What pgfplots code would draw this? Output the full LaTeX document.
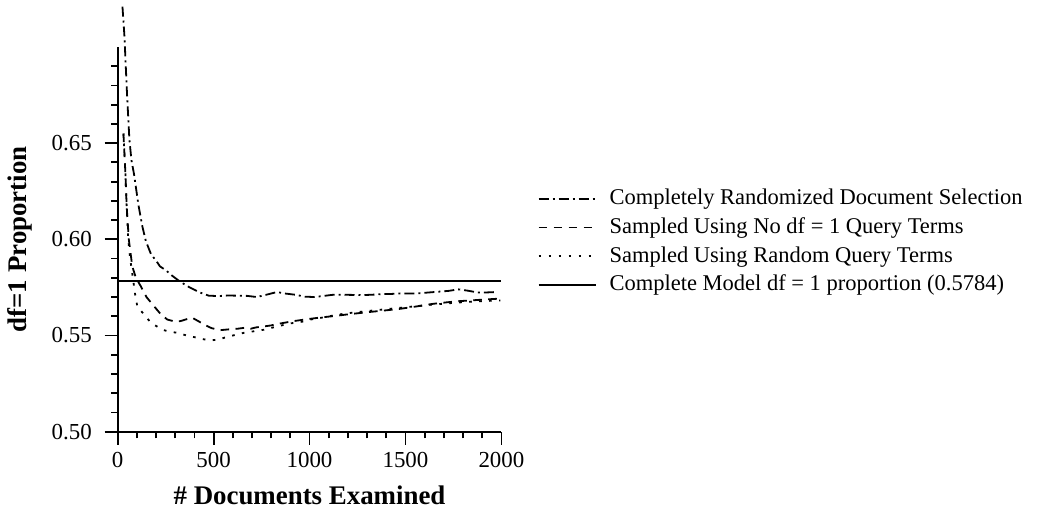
\documentclass[border=0pt]{standalone}
\usepackage{pgfplots}
\pgfplotsset{compat=1.18}
\usepackage{fontspec}
\setmainfont{Liberation Serif}
\begin{document}
\fontsize{11.3}{13.5}\selectfont
\begin{tikzpicture}
\path (-58.5bp,-38bp) rectangle (470bp,216bp);
\begin{axis}[
  at={(0,0)}, anchor=south west,
  scale only axis,
  width=192bp, height=192.5bp,
  xmin=0, xmax=2000, ymin=0.5, ymax=0.70,
  clip=false,
  axis lines*=left,
  axis line style={line width=0.9bp},
  tick align=outside,
  major tick length=6.5bp, minor tick length=3.3bp,
  tick style={line width=0.9bp, black},
  xtick={0,500,1000,1500,2000},
  minor xtick={100,200,300,400,600,700,800,900,1100,1200,1300,1400,1600,1700,1800,1900},
  ytick={0.5,0.55,0.6,0.65},
  minor ytick={0.51,0.52,0.53,0.54,0.56,0.57,0.58,0.59,0.61,0.62,0.63,0.64,0.66,0.67,0.68,0.69},
  yticklabel style={xshift=-2.5bp, /pgf/number format/.cd, fixed, fixed zerofill, precision=2},
  xticklabel style={/pgf/number format/.cd, fixed, 1000 sep={}},
  /pgf/number format/assume math mode=true,
  ticklabel style={font=\fontsize{11.5}{13.5}\selectfont},
  xlabel={\textbf{\# Documents Examined}},
  ylabel={\textbf{df=1 Proportion}},
  xlabel style={at={(axis description cs:0.5,-0.19)}, anchor=base},
  ylabel style={at={(axis description cs:-0.255,0.5)}, anchor=center},
  label style={font=\fontsize{13.5}{15}\selectfont},
  legend style={at={(1,0.5)}, anchor=west, xshift=18bp, yshift=-1.5bp, draw=none, fill=none,
    inner sep=0pt, column sep=6.5bp, row sep=3.8bp,
    nodes={inner sep=0pt, text height=8bp, text depth=2.5bp, anchor=base west},
    font=\fontsize{11.3}{13.5}\selectfont},
  legend cell align=left,
  legend image code/.code={\draw[#1] (0bp,3bp) -- (28.5bp,3bp);},
]
\addplot[black, line width=0.9bp, dash pattern=on 5bp off 2bp on 1bp off 2bp] coordinates {
(25,0.721) (35,0.706) (49,0.675) (61,0.652) (72,0.641) (85,0.634) (108,0.618) (128,0.607) (147,0.599)
(175,0.592) (200,0.589) (220,0.586) (250,0.584) (285,0.581) (325,0.578) (375,0.575) (425,0.5725)
(475,0.5707) (525,0.5705) (575,0.5708) (625,0.5707) (675,0.5706) (725,0.5700) (775,0.5712)
(830,0.5726) (875,0.5718) (925,0.5712) (975,0.5702) (1025,0.5700) (1075,0.5706) (1125,0.5712)
(1175,0.5712) (1225,0.5711) (1275,0.5710) (1325,0.5712) (1375,0.5715) (1425,0.5716) (1475,0.5719)
(1525,0.5718) (1575,0.5720) (1625,0.5724) (1675,0.5728) (1725,0.5732) (1775,0.5740) (1825,0.5733)
(1875,0.5724) (1925,0.5724) (1975,0.5726)
};
\addlegendentry{Completely Randomized Document Selection}
\addplot[black, line width=0.9bp, dash pattern=on 4.3bp off 3.2bp] coordinates {
(30,0.655) (40,0.635) (47,0.617) (58,0.600) (76,0.586) (95,0.580) (120,0.5757) (150,0.570)
(189,0.5653) (225,0.561) (259,0.5583) (300,0.5572) (328,0.5575) (360,0.5585) (389,0.5592)
(420,0.5575) (450,0.5557) (490,0.5538) (536,0.5528) (580,0.5532) (623,0.5535) (660,0.5540)
(693,0.5535) (720,0.5542) (760,0.5547) (797,0.5552) (850,0.5563) (918,0.5575) (960,0.5581)
(1005,0.5587) (1060,0.5594) (1127,0.5601) (1200,0.5610) (1300,0.5621) (1400,0.5631) (1474,0.5639)
(1550,0.5650) (1646,0.5665) (1720,0.5673) (1786,0.5679) (1880,0.5685) (1978,0.5691)
};
\addlegendentry{Sampled Using No df = 1 Query Terms}
\addplot[black, line width=0.9bp, dash pattern=on 1.3bp off 3.7bp] coordinates {
(30,0.655) (40,0.635) (47,0.617) (55,0.600) (65,0.590) (78,0.581) (90,0.572) (102,0.5653)
(120,0.563) (137,0.561) (170,0.557) (200,0.555) (233,0.553) (270,0.552) (311,0.5514) (360,0.550)
(415,0.5488) (450,0.548) (490,0.5475) (530,0.548) (554,0.5488) (600,0.5500) (658,0.5514)
(710,0.5522) (762,0.5530) (830,0.5547) (901,0.5563) (962,0.5572) (1005,0.5583) (1060,0.5592)
(1127,0.5605) (1200,0.5616) (1300,0.5627) (1380,0.5635) (1474,0.5644) (1550,0.5652) (1646,0.5661)
(1730,0.5668) (1821,0.5675) (1900,0.5679) (1995,0.5682)
};
\addlegendentry{Sampled Using Random Query Terms}
\addplot[black, line width=0.9bp] coordinates {(0,0.5784) (2000,0.5784)};
\addlegendentry{Complete Model df = 1 proportion (0.5784)}
\end{axis}
\end{tikzpicture}
\end{document}
